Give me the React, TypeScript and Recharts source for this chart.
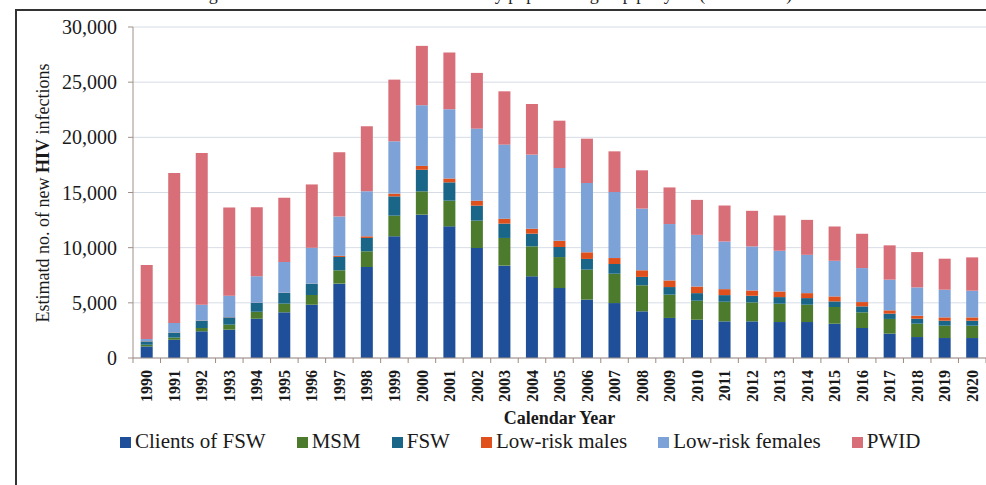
import { BarChart, Bar, XAxis, YAxis, CartesianGrid } from 'recharts';

// estimated new HIV infections per year, by population group
const years = [
  '1990', '1991', '1992', '1993', '1994', '1995', '1996', '1997', '1998', '1999', '2000',
  '2001', '2002', '2003', '2004', '2005', '2006', '2007', '2008', '2009', '2010',
  '2011', '2012', '2013', '2014', '2015', '2016', '2017', '2018', '2019', '2020',
];
const clientsFsw = [1050, 1650, 2420, 2570, 3560, 4140, 4830, 6740, 8250, 11030, 12990, 11930, 9970, 8370, 7400, 6340, 5290, 4980, 4230, 3630, 3470, 3320, 3320, 3260, 3260, 3110, 2720, 2210, 1900, 1810, 1810];
const msm = [150, 200, 300, 450, 630, 790, 880, 1210, 1420, 1870, 2110, 2330, 2480, 2510, 2720, 2810, 2720, 2660, 2360, 2110, 1720, 1780, 1720, 1660, 1570, 1510, 1420, 1330, 1210, 1120, 1120];
const fsw = [300, 450, 660, 660, 790, 970, 1000, 1210, 1210, 1750, 1960, 1660, 1360, 1300, 1150, 910, 970, 880, 760, 690, 690, 600, 600, 600, 600, 510, 540, 480, 450, 450, 450];
const lowRiskMales = [20, 20, 20, 20, 30, 20, 20, 100, 150, 250, 350, 350, 450, 450, 450, 570, 600, 540, 600, 600, 600, 540, 480, 510, 450, 450, 390, 300, 270, 300, 300];
const lowRiskFemales = [200, 850, 1430, 1950, 2400, 2780, 3260, 3560, 4080, 4740, 5500, 6280, 6530, 6710, 6710, 6590, 6280, 5980, 5590, 5110, 4680, 4320, 3990, 3690, 3470, 3230, 3080, 2780, 2570, 2510, 2420];
const pwid = [6700, 13600, 13750, 8000, 6260, 5830, 5740, 5830, 5890, 5590, 5380, 5140, 5050, 4830, 4590, 4290, 4020, 3690, 3470, 3320, 3170, 3260, 3230, 3200, 3170, 3110, 3110, 3110, 3200, 2810, 3020];
const yTicks = [0, 5000, 10000, 15000, 20000, 25000, 30000];

const series = [
  { key: 'clients', name: 'Clients of FSW', color: '#1f4f99', values: clientsFsw },
  { key: 'msm', name: 'MSM', color: '#4d7b2e', values: msm },
  { key: 'fsw', name: 'FSW', color: '#196689', values: fsw },
  { key: 'lrm', name: 'Low-risk males', color: '#e0501c', values: lowRiskMales },
  { key: 'lrf', name: 'Low-risk females', color: '#7ca2d7', values: lowRiskFemales },
  { key: 'pwid', name: 'PWID', color: '#d86e77', values: pwid },
];

const data = years.map((year, i) => {
  const row: Record<string, string | number> = { year };
  series.forEach((s) => {
    row[s.key] = s.values[i];
  });
  return row;
});

const W = 986;
const H = 485;
const Y_AXIS_W = 133;
const SERIF = '"Liberation Serif", serif';
const bandW = (W - Y_AXIS_W) / years.length;

function YearTick(props: any) {
  const { x, y, payload, index } = props;
  return (
    <g>
      <line x1={x - bandW / 2} y1={y} x2={x - bandW / 2} y2={y + 5} stroke="#9c8c80" />
      {index === years.length - 1 && (
        <line x1={x + bandW / 2} y1={y} x2={x + bandW / 2} y2={y + 5} stroke="#9c8c80" />
      )}
      <text
        x={x}
        y={y + 12}
        transform={`rotate(-90, ${x}, ${y + 12})`}
        textAnchor="end"
        dy="0.35em"
        fontFamily={SERIF}
        fontWeight="bold"
        fontSize={16}
        fill="#1a1a1a"
      >
        {payload.value}
      </text>
    </g>
  );
}

function YLabel() {
  const cx = 43;
  const cy = 193;
  return (
    <text
      x={cx}
      y={cy}
      transform={`rotate(-90, ${cx}, ${cy})`}
      textAnchor="middle"
      dominantBaseline="central"
      fontFamily={SERIF}
      fontSize={18}
      fill="#1a1a1a"
    >
      Estimatd no. of new <tspan fontWeight="bold">HIV</tspan> infections
    </text>
  );
}

export default function App() {
  return (
    <div style={{ position: 'absolute', left: 0, top: 0, width: W, height: H, overflow: 'hidden', background: '#fff' }}>
      <div
        style={{
          position: 'absolute',
          left: 0,
          width: W,
          top: -15,
          lineHeight: '18px',
          fontFamily: SERIF,
          fontSize: 18,
          textAlign: 'center',
          color: '#222',
        }}
      >
        Figure 2. Estimated new HIV infections by population group per year (1990–2020)
      </div>
      <div
        style={{
          position: 'absolute',
          left: 15,
          top: 9,
          width: W,
          height: H,
          borderTop: '2px solid #333',
          borderLeft: '2px solid #333',
        }}
      />
      <div style={{ position: 'absolute', left: 0, top: 0 }}>
        <BarChart
          width={W}
          height={H}
          data={data}
          margin={{ top: 27, right: 0, bottom: 0, left: 0 }}
          barCategoryGap="28%"
        >
          <CartesianGrid vertical={false} stroke="#d6dce6" />
          <XAxis
            dataKey="year"
            height={127}
            tickLine={false}
            tickSize={0}
            tickMargin={0}
            interval={0}
            axisLine={{ stroke: '#a09088' }}
            tick={<YearTick />}
            label={{
              value: 'Calendar Year',
              position: 'insideBottom',
              offset: 61,
              style: { fontFamily: SERIF, fontSize: 18, fontWeight: 'bold', fill: '#1a1a1a' },
            }}
          />
          <YAxis
            width={Y_AXIS_W}
            domain={[0, 30000]}
            ticks={yTicks}
            tickSize={5}
            tickMargin={11}
            axisLine={{ stroke: '#a09088' }}
            tickLine={{ stroke: '#a09088' }}
            tickFormatter={(v: number) => v.toLocaleString('en-US')}
            tick={{ fontFamily: SERIF, fontSize: 20, fill: '#1a1a1a' }}
            label={{ content: () => <YLabel /> }}
          />
          {series.map((s) => (
            <Bar key={s.key} dataKey={s.key} name={s.name} stackId="a" fill={s.color} isAnimationActive={false} />
          ))}
        </BarChart>
      </div>
      <div
        style={{
          position: 'absolute',
          left: 120,
          top: 431,
          display: 'flex',
          alignItems: 'baseline',
          gap: 31,
          fontFamily: SERIF,
          fontSize: 21,
          lineHeight: '20px',
          color: '#1a1a1a',
          whiteSpace: 'nowrap',
        }}
      >
        {series.map((s) => (
          <span key={s.key} style={{ display: 'flex', alignItems: 'baseline', fontFamily: SERIF }}>
            <span style={{ display: 'inline-block', width: 11, height: 11, background: s.color, marginRight: 4 }} />
            {s.name}
          </span>
        ))}
      </div>
    </div>
  );
}
